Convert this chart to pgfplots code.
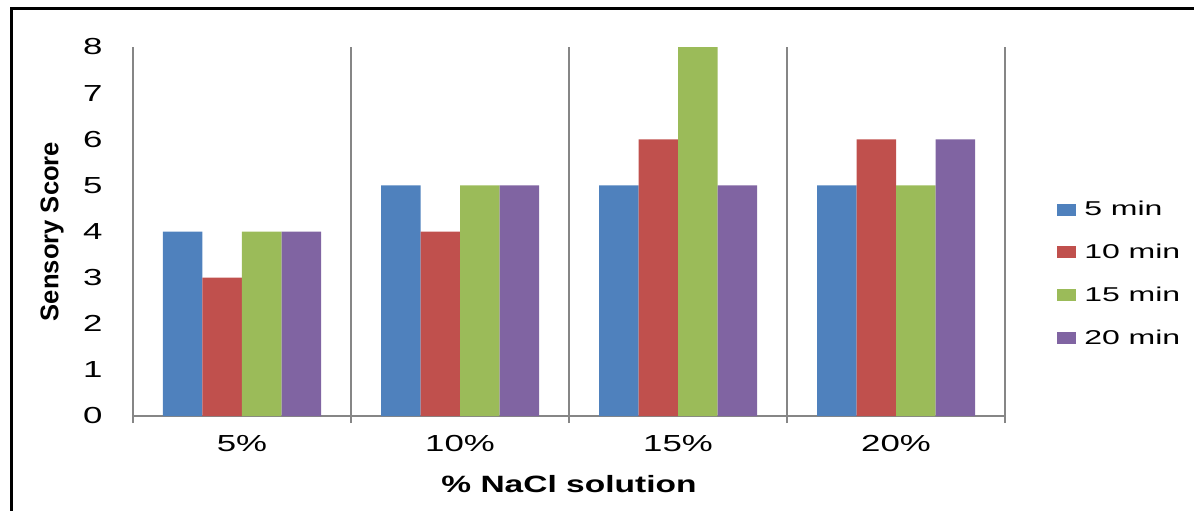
\documentclass[border=0pt]{standalone}
\usepackage{pgfplots}
\pgfplotsset{compat=1.18}
\usepackage{fontspec}
\setmainfont{Liberation Sans}[FakeStretch=1.5]
\newfontfamily\labfont{Liberation Sans}[FakeStretch=1.42]
\newfontfamily\legfont{Liberation Sans}[FakeStretch=1.6]
\newfontfamily\plainfont{Liberation Sans}

\definecolor{sOne}{HTML}{4F81BD}
\definecolor{sTwo}{HTML}{C0504D}
\definecolor{sThree}{HTML}{9BBB59}
\definecolor{sFour}{HTML}{8064A2}
\definecolor{axisgray}{HTML}{868686}

\begin{document}
\begin{tikzpicture}
\path[use as bounding box] (-66.5pt,-47pt) rectangle (530.5pt,208pt);
% outer chart frame
\draw[line width=1.6pt, black] (540pt,203.75pt) -- (-60.75pt,203.75pt) -- (-60.75pt,-60pt);
\begin{axis}[
  at={(0pt,0pt)}, anchor=south west,
  scale only axis, width=436pt, height=184.5pt,
  xmin=-0.5, xmax=3.5, ymin=0, ymax=8,
  axis x line*=bottom, axis y line*=left,
  axis line style={axisgray, line width=1pt, -},
  xtick={0,1,2,3}, xticklabels={5\%,10\%,15\%,20\%},
  minor xtick={-0.5,0.5,1.5,2.5,3.5},
  ytick={0,1,...,8},
  major tick length=0pt, minor tick length=3.5pt, tick align=outside,
  minor tick style={axisgray, line width=1pt},
  xminorgrids=true,
  minor x grid style={axisgray, line width=1pt},
  ticklabel style={font=\fontsize{11.6}{13}\selectfont},
  /pgf/number format/assume math mode=true,
  yticklabel style={anchor=east, inner sep=0pt, xshift=-15pt},
  xticklabel style={anchor=north, inner sep=0pt, yshift=-9.5pt},
  xlabel={\labfont\bfseries\% NaCl solution},
  xlabel style={at={(axis description cs:0.5,0)}, anchor=base, yshift=-38pt, font=\fontsize{11.8}{13}\selectfont},
  ylabel={\plainfont\bfseries Sensory Score},
  ylabel style={at={(axis description cs:-0.0929,0.5)}, anchor=center, font=\fontsize{12.8}{14}\selectfont},
  ybar=0pt, bar width=19.75pt,
  legend style={at={(axis description cs:1.0595,0.385)}, anchor=west, draw=none,
    inner sep=0pt, row sep=8.7pt, column sep=2pt, font=\legfont\fontsize{10}{11}\selectfont},
  legend cell align=left,
  legend image code/.code={\fill[#1] (0pt,-3pt) rectangle (9.5pt,3pt);},
]
\addplot[fill=sOne, draw=none] coordinates {(0,4) (1,5) (2,5) (3,5)};
\addplot[fill=sTwo, draw=none] coordinates {(0,3) (1,4) (2,6) (3,6)};
\addplot[fill=sThree, draw=none] coordinates {(0,4) (1,5) (2,8) (3,5)};
\addplot[fill=sFour, draw=none] coordinates {(0,4) (1,5) (2,5) (3,6)};
\legend{5 min, 10 min, 15 min, 20 min}
\end{axis}
\end{tikzpicture}
\end{document}
